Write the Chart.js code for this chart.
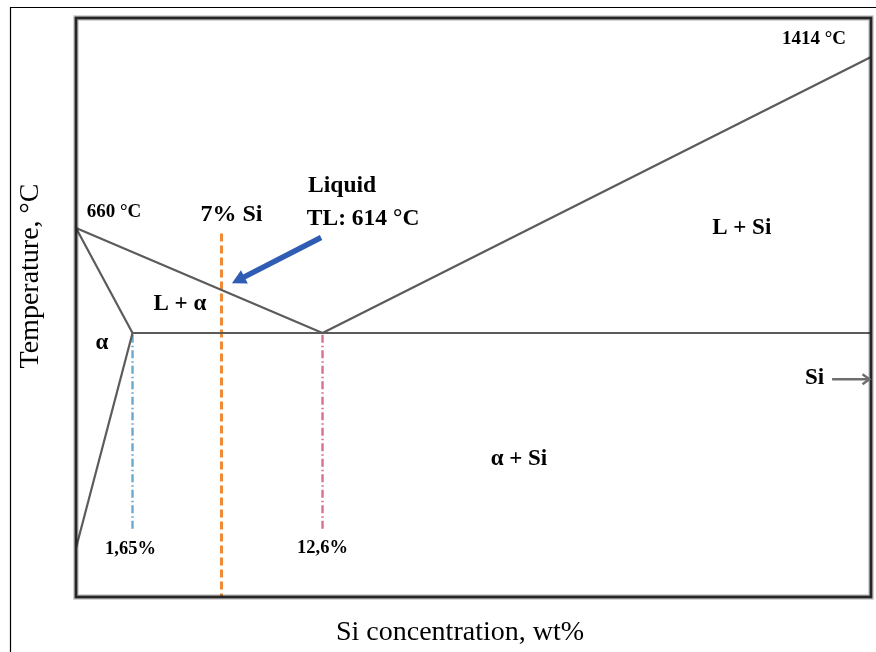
<!DOCTYPE html>
<html>
<head>
<meta charset="utf-8">
<script src="https://cdn.jsdelivr.net/npm/chart.js@4.4.1/dist/chart.umd.min.js"></script>
<style>
  html, body { margin: 0; padding: 0; background: #fff; }
  #wrap { width: 876px; height: 652px; position: relative; }
</style>
</head>
<body>
<div id="wrap"><canvas id="c"></canvas></div>
<script>
// Al–Si binary phase diagram (schematic, not drawn to scale)

// Characteristic temperatures, °C
const meltAl = 660;
const eutecticT = 577;
const meltSi = 1414;
const liquidusAt7 = 614;
const solvusLowT = 200;

// Characteristic compositions, wt% Si
const solubilitySi = 1.65;
const alloySi = 7;
const eutecticSi = 12.6;
const pureSi = 100;

// Phase boundaries as [wt% Si, °C] pairs
const liquidusAlpha = [[0, meltAl], [eutecticSi, eutecticT]];
const solidusAlpha = [[0, meltAl], [solubilitySi, eutecticT]];
const solvusAlpha = [[solubilitySi, eutecticT], [0, solvusLowT]];
const eutecticLine = [[solubilitySi, eutecticT], [pureSi, eutecticT]];
const liquidusSi = [[eutecticSi, eutecticT], [pureSi, meltSi]];

// Reference lines
const alloyLine = [[alloySi, 656], [alloySi, 0]];
const solubilityLine = [[solubilitySi, 574], [solubilitySi, 232]];
const eutecticCompLine = [[eutecticSi, 574], [eutecticSi, 232]];

// Arrows [from, to]
const liquidusArrow = [[12.52, 653], [7.58, 619]];
const siArrow = [[93.8, 496], [pureSi, 496]];

// Axis breakpoints: value -> fraction of the axis length
const concKnots = [0, 1.65, 7, 12.6, 100];
const concFrac  = [0, 0.0711, 0.1830, 0.3101, 1];
const tempKnots = [0, 200, 577, 614, 660, 1414, 1500];
const tempFrac  = [0, 0.0846, 0.4560, 0.5302, 0.6373, 0.9326, 1];

function interp(v, xs, ys) {
  const n = xs.length - 1;
  if (v <= xs[0]) return ys[0] + (v - xs[0]) * (ys[1] - ys[0]) / (xs[1] - xs[0]);
  for (let i = 1; i <= n; i++) {
    if (v <= xs[i]) {
      const t = (v - xs[i - 1]) / (xs[i] - xs[i - 1]);
      return ys[i - 1] + t * (ys[i] - ys[i - 1]);
    }
  }
  return ys[n] + (v - xs[n]) * (ys[n] - ys[n - 1]) / (xs[n] - xs[n - 1]);
}

// Linear scale with piecewise breakpoints (schematic diagram axis)
class PiecewiseScale extends Chart.LinearScale {
  knotPair() {
    return this.axis === 'x' ? [concKnots, concFrac] : [tempKnots, tempFrac];
  }
  getPixelForValue(value) {
    const [k, f] = this.knotPair();
    return this.getPixelForDecimal(interp(value, k, f));
  }
  getValueForPixel(pixel) {
    const [k, f] = this.knotPair();
    return interp(this.getDecimalForPixel(pixel), f, k);
  }
}
PiecewiseScale.id = 'piecewise';
PiecewiseScale.defaults = Chart.LinearScale.defaults;
Chart.register(PiecewiseScale);

const toXY = pts => pts.map(([x, y]) => ({ x, y }));
const fmtComma = v => String(v).replace('.', ',');

const phaseStyle = { borderColor: '#5b5b5b', borderWidth: 2.2, pointRadius: 0, clip: false, fill: false };

const datasets = [
  { data: toXY(liquidusAlpha), ...phaseStyle },
  { data: toXY(solidusAlpha), ...phaseStyle },
  { data: toXY(solvusAlpha), ...phaseStyle },
  { data: toXY(eutecticLine), ...phaseStyle },
  { data: toXY(liquidusSi), ...phaseStyle },
  { data: toXY(alloyLine), borderColor: '#ef8a36', borderWidth: 3, borderDash: [8, 4],
    pointRadius: 0, clip: false, fill: false },
  { data: toXY(solubilityLine), borderColor: '#6aa9cf', borderWidth: 2.4, borderDash: [8, 3, 1.5, 3],
    pointRadius: 0, clip: false, fill: false },
  { data: toXY(eutecticCompLine), borderColor: '#d8708e', borderWidth: 2.4, borderDash: [8, 3, 1.5, 3],
    pointRadius: 0, clip: false, fill: false }
];

// Text annotations anchored to data points, with pixel offsets
const serif = '"Liberation Serif", "Times New Roman", serif';
const annotations = [
  { text: `${meltSi} °C`, at: [pureSi, meltSi], dx: -57, dy: -18, size: 19 },
  { text: `${meltAl} °C`, at: [0, meltAl], dx: 38, dy: -16, size: 19 },
  { text: `${alloySi}% Si`, at: alloyLine[0], dx: 10, dy: -19, size: 24 },
  { text: 'Liquid', at: liquidusArrow[0], dx: 21, dy: -52, size: 23.5 },
  { text: `TL: ${liquidusAt7} °C`, at: liquidusArrow[0], dx: 42, dy: -19, size: 23.5 },
  { text: 'L + α', at: [4.5, 602], dx: 0, dy: 0, size: 23 },
  { text: 'α', at: [0.76, 560], dx: 0, dy: 0, size: 23 },
  { text: 'L + Si', at: [79.4, 660], dx: 0, dy: 0, size: 23 },
  { text: 'α + Si', at: [43.9, 356], dx: 0, dy: 0, size: 23 },
  { text: 'Si', at: siArrow[0], dx: -8, dy: -1, size: 23, align: 'right' },
  { text: `${fmtComma(solubilitySi)}%`, at: solubilityLine[1], dx: -2, dy: 19, size: 18.5 },
  { text: `${fmtComma(eutecticSi)}%`, at: eutecticCompLine[1], dx: 0, dy: 18, size: 18.5 }
];

function drawArrow(ctx, x1, y1, x2, y2, o) {
  const a = Math.atan2(y2 - y1, x2 - x1);
  const c = Math.cos(a), s = Math.sin(a);
  ctx.save();
  ctx.strokeStyle = o.color;
  ctx.fillStyle = o.color;
  ctx.lineWidth = o.width;
  ctx.lineCap = 'butt';
  ctx.lineJoin = 'miter';
  const endX = o.open ? x2 : x2 - c * o.head * 0.8;
  const endY = o.open ? y2 : y2 - s * o.head * 0.8;
  ctx.beginPath();
  ctx.moveTo(x1, y1);
  ctx.lineTo(endX, endY);
  ctx.stroke();
  const bx = x2 - c * o.head, by = y2 - s * o.head;
  const lx = bx + s * o.half, ly = by - c * o.half;
  const rx = bx - s * o.half, ry = by + c * o.half;
  ctx.beginPath();
  if (o.open) {
    ctx.lineWidth = o.width * 0.9;
    ctx.moveTo(lx, ly); ctx.lineTo(x2, y2); ctx.lineTo(rx, ry);
    ctx.stroke();
  } else {
    ctx.moveTo(x2, y2); ctx.lineTo(lx, ly); ctx.lineTo(rx, ry); ctx.closePath();
    ctx.fill();
  }
  ctx.restore();
}

const diagramDecor = {
  id: 'diagramDecor',
  beforeDraw(chart) {
    const ctx = chart.ctx;
    ctx.save();
    ctx.fillStyle = '#fff';
    ctx.fillRect(0, 0, chart.width, chart.height);
    // thin outer frame
    ctx.strokeStyle = '#000';
    ctx.lineWidth = 1.2;
    ctx.beginPath();
    ctx.moveTo(chart.width, 7.5);
    ctx.lineTo(10.5, 7.5);
    ctx.lineTo(10.5, chart.height);
    ctx.stroke();
    ctx.restore();
  },
  afterDatasetsDraw(chart) {
    const ctx = chart.ctx;
    const { left, top, right, bottom } = chart.chartArea;
    const sx = chart.scales.x, sy = chart.scales.y;
    const px = ([x, y]) => [sx.getPixelForValue(x), sy.getPixelForValue(y)];

    // plot frame
    ctx.save();
    ctx.strokeStyle = 'rgba(0,0,0,0.22)';
    ctx.lineWidth = 5.5;
    ctx.strokeRect(left, top, right - left, bottom - top);
    ctx.strokeStyle = '#262626';
    ctx.lineWidth = 2.8;
    ctx.strokeRect(left, top, right - left, bottom - top);
    ctx.restore();

    // arrows
    const [a1, a2] = liquidusArrow.map(px);
    drawArrow(ctx, a1[0], a1[1], a2[0], a2[1], { color: '#2f5db3', width: 5.5, head: 14, half: 7.5 });
    const [s1, s2] = siArrow.map(px);
    drawArrow(ctx, s1[0], s1[1], s2[0] - 1.5, s2[1], { color: '#6e6e6e', width: 2.6, head: 7, half: 5, open: true });

    // labels
    ctx.save();
    ctx.fillStyle = '#000';
    ctx.textBaseline = 'middle';
    annotations.forEach(a => {
      const [x, y] = px(a.at);
      ctx.font = `bold ${a.size}px ${serif}`;
      ctx.textAlign = a.align || 'center';
      ctx.fillText(a.text, x + a.dx, y + a.dy);
    });

    // axis titles
    ctx.font = `28px ${serif}`;
    ctx.textAlign = 'center';
    ctx.fillText('Si concentration, wt%', left + 384, bottom + 36);
    ctx.translate(31, top + 258);
    ctx.rotate(-Math.PI / 2);
    ctx.fillText('Temperature, °C', 0, 0);
    ctx.restore();
  }
};

new Chart(document.getElementById('c'), {
  type: 'line',
  data: { datasets },
  options: {
    responsive: true,
    maintainAspectRatio: false,
    animation: false,
    events: [],
    layout: { padding: { left: 76, top: 18, right: 5, bottom: 55 } },
    elements: { line: { tension: 0 } },
    plugins: { legend: { display: false }, tooltip: { enabled: false } },
    scales: {
      x: { type: 'piecewise', min: 0, max: 100, display: false },
      y: { type: 'piecewise', min: 0, max: 1500, display: false }
    }
  },
  plugins: [diagramDecor]
});
</script>
</body>
</html>
